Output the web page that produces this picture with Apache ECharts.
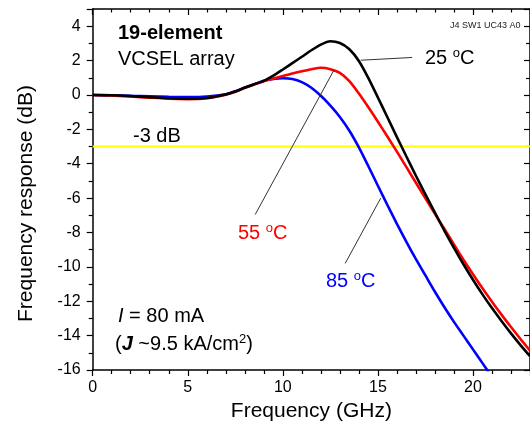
<!DOCTYPE html>
<html>
<head>
<meta charset="utf-8">
<script src="https://cdn.jsdelivr.net/npm/echarts@6/dist/echarts.min.js"></script>
<style>
html,body{margin:0;padding:0;background:#fff;}
#chart{width:530px;height:435px;}
</style>
</head>
<body>
<div id="chart"></div>
<script>
// ---- data ----
const freq = [0,1,2,3,4,5,6,7,7.5,8,8.5,9,9.5,10,10.5,11,11.5,12,12.5,13,13.5,14,14.5,15,15.5,16,16.5,17,17.5,18,18.5,19,19.5,20,20.5,21,21.5,22,22.5,23];
const resp25 = [0,-0.02,-0.07,-0.13,-0.19,-0.22,-0.18,0.03,0.2,0.42,0.62,0.82,1.12,1.48,1.85,2.22,2.6,2.93,3.12,3.02,2.66,1.98,0.98,-0.15,-1.3,-2.45,-3.58,-4.7,-5.78,-6.85,-7.9,-8.9,-9.85,-10.75,-11.6,-12.4,-13.15,-13.87,-14.55,-15.2];
const resp55 = [0,-0.03,-0.09,-0.16,-0.22,-0.24,-0.19,0.02,0.19,0.41,0.61,0.8,0.95,1.1,1.25,1.38,1.5,1.58,1.5,1.28,0.8,0.08,-0.72,-1.56,-2.42,-3.3,-4.2,-5.11,-6.02,-6.92,-7.8,-8.7,-9.58,-10.43,-11.25,-12.03,-12.78,-13.5,-14.2,-14.88];
const resp85 = [0,-0.02,-0.05,-0.08,-0.11,-0.12,-0.09,0.04,0.21,0.43,0.63,0.82,0.93,0.97,0.93,0.75,0.42,-0.05,-0.62,-1.28,-2.08,-3.05,-4.15,-5.28,-6.4,-7.5,-8.55,-9.55,-10.5,-11.45,-12.35,-13.2,-14.0,-14.8,-15.6,-16.4,null,null,null,null];
const threshold = -3;
const xTicks = [0,5,10,15,20];
const yTicks = [-16,-14,-12,-10,-8,-6,-4,-2,0,2,4];

function pairs(ys){ return freq.map((f,i)=>[f, ys[i]]); }

const FONT = '"Liberation Sans", Arial, sans-serif';
const chart = echarts.init(document.getElementById('chart'), null, {renderer:'canvas'});

const axisLineStyle = {color:'#000', width:1.5};
function leader(a, b){
  return {
    silent:true, symbol:['none','none'],
    lineStyle:{color:'#333', width:1, type:'solid'},
    label:{show:false},
    data:[[{coord:a},{coord:b}]]
  };
}
const sup = {fontSize:13, fontFamily:FONT, verticalAlign:'top', lineHeight:13};
function txt(x, y, text, rich, color){
  return {type:'text', x:x, y:y, silent:true,
    style:{text:text, fill:color||'#000', fontSize:20, fontFamily:FONT,
      verticalAlign:'middle', align:'left', rich:rich}};
}
const richC = (color)=>({a:{fontSize:20, fontFamily:FONT, lineHeight:22, color:color}, s:Object.assign({color:color}, sup)});

chart.setOption({
  animation:false,
  backgroundColor:'#fff',
  grid:{left:92.7, right:-6, top:9, bottom:65},
  xAxis:[{
    type:'value', min:0, max:23, interval:5,
    name:'Frequency (GHz)', nameLocation:'middle', nameGap:24,
    nameTextStyle:{fontSize:21, fontFamily:FONT, color:'#000'},
    axisLine:{onZero:false, lineStyle:axisLineStyle},
    axisTick:{inside:false, length:6, lineStyle:{color:'#000', width:1.2}},
    minorTick:{show:true, splitNumber:5, length:4, lineStyle:{color:'#000', width:1.2}},
    axisLabel:{fontSize:16, fontFamily:FONT, color:'#000', margin:10, showMaxLabel:false,
      formatter:(v)=> xTicks.includes(v) ? String(v) : ''},
    splitLine:{show:false}
  },{
    type:'value', position:'top', min:0, max:23, interval:5,
    axisLine:{show:true, onZero:false, lineStyle:axisLineStyle},
    axisTick:{inside:true, length:6, lineStyle:{color:'#000', width:1.2}},
    minorTick:{show:true, splitNumber:5, length:3.5, lineStyle:{color:'#000', width:1.2}},
    axisLabel:{show:false}, splitLine:{show:false}
  }],
  yAxis:[{
    type:'value', min:-16, max:5, interval:2,
    name:'Frequency response (dB)', nameLocation:'middle', nameGap:56, nameRotate:90,
    nameTextStyle:{fontSize:21, fontFamily:FONT, color:'#000', padding:[0,28,0,0]},
    axisLine:{onZero:false, lineStyle:axisLineStyle},
    axisTick:{inside:false, length:6, lineStyle:{color:'#000', width:1.2}},
    minorTick:{show:true, splitNumber:2, length:4, lineStyle:{color:'#000', width:1.2}},
    axisLabel:{fontSize:16, fontFamily:FONT, color:'#000', margin:12, showMaxLabel:false,
      formatter:(v)=> yTicks.includes(v) ? String(v) : ''},
    splitLine:{show:false}
  },{
    type:'value', position:'right', min:-16, max:5, interval:2,
    axisLine:{show:true, onZero:false, lineStyle:axisLineStyle},
    axisTick:{inside:true, length:6, lineStyle:{color:'#000', width:1.2}},
    minorTick:{show:true, splitNumber:2, length:4, lineStyle:{color:'#000', width:1.2}},
    axisLabel:{show:false}, splitLine:{show:false}
  }],
  series:[
    {type:'line', name:'85 °C', data:pairs(resp85), showSymbol:false, smooth:0.25,
      lineStyle:{color:'#0000ff', width:2.6}, itemStyle:{color:'#0000ff'},
      markLine: leader([15.15,-6.0],[13.28,-9.8]), z:3},
    {type:'line', name:'55 °C', data:pairs(resp55), showSymbol:false, smooth:0.25,
      lineStyle:{color:'#ff0000', width:2.6}, itemStyle:{color:'#ff0000'},
      markLine: leader([12.69,1.45],[8.55,-6.95]), z:4},
    {type:'line', name:'25 °C', data:pairs(resp25), showSymbol:false, smooth:0.25,
      lineStyle:{color:'#000000', width:2.6}, itemStyle:{color:'#000'},
      markLine: leader([14.1,2.02],[16.8,2.18]), z:5},
    {type:'line', name:'-3 dB', data:[[0,threshold],[23,threshold]], showSymbol:false,
      lineStyle:{color:'#ffff00', width:2}, z:2, silent:true}
  ],
  graphic:[
    {type:'text', x:118, y:33, silent:true, style:{text:'19-element', fill:'#000', fontSize:20, fontWeight:'bold', fontFamily:FONT, verticalAlign:'middle'}},
    {type:'text', x:118, y:59, silent:true, style:{text:'VCSEL array', fill:'#000', fontSize:20, fontFamily:FONT, verticalAlign:'middle'}},
    {type:'text', x:450, y:26, silent:true, style:{text:'J4 SW1 UC43 A0', fill:'#222', fontSize:9, fontFamily:FONT, verticalAlign:'middle'}},
    {type:'text', x:133, y:136, silent:true, style:{text:'-3 dB', fill:'#000', fontSize:20, fontFamily:FONT, verticalAlign:'middle'}},
    txt(425, 58, '{a|25 }{s|o}{a|C}', richC('#000'), '#000'),
    txt(238, 233, '{a|55 }{s|o}{a|C}', richC('#ff0000'), '#ff0000'),
    txt(326, 281, '{a|85 }{s|o}{a|C}', richC('#0000ff'), '#0000ff'),
    txt(118, 316, '{i|I}{a| = 80 mA}', {i:{fontSize:20, fontFamily:FONT, fontStyle:'italic', lineHeight:22}, a:{fontSize:20, fontFamily:FONT, lineHeight:22}}),
    txt(115, 344, '{a|(}{j|J}{a| ~9.5 kA/cm}{s|2}{a|)}', {a:{fontSize:20, fontFamily:FONT, lineHeight:22}, j:{fontSize:20, fontFamily:FONT, fontStyle:'italic', fontWeight:'bold', lineHeight:22}, s:sup})
  ]
});
</script>
</body>
</html>
